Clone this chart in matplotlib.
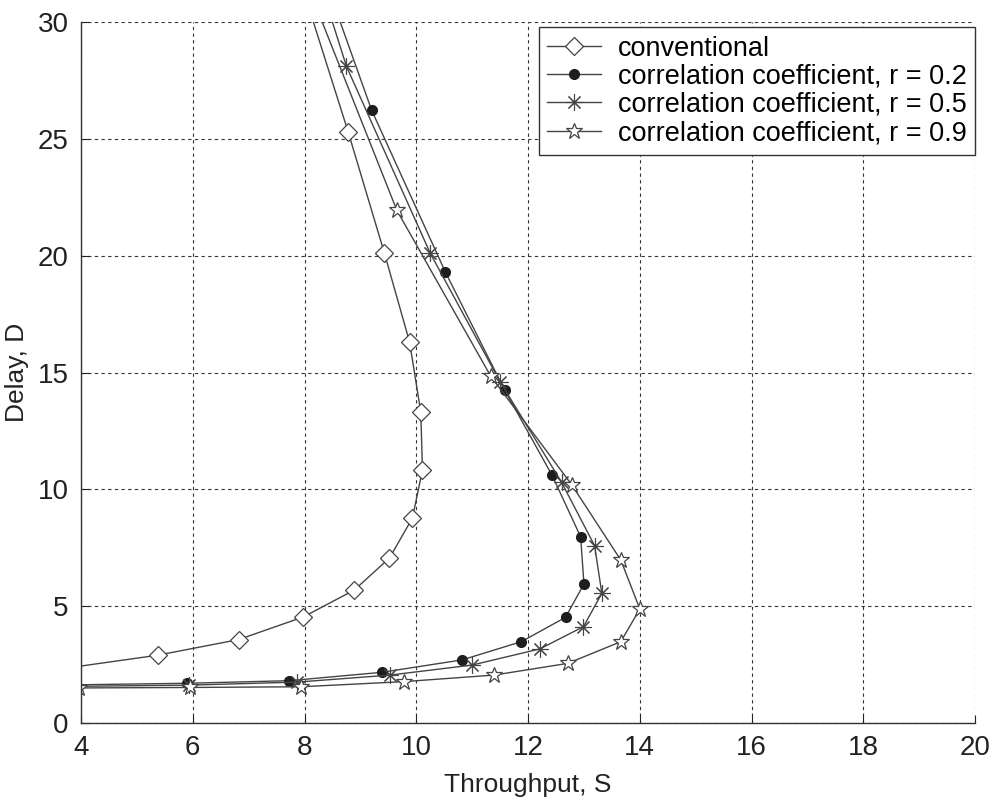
import matplotlib
matplotlib.use("Agg")
import matplotlib.pyplot as plt

plt.rcParams['font.family'] = ['Liberation Sans', 'DejaVu Sans']

# conventional (diamonds); first/last points sit just outside the axes
conv_s = [3.0, 5.37, 6.82, 7.98, 8.89, 9.52, 9.93, 10.11, 10.08, 9.88, 9.43, 8.78, 7.96]
conv_d = [2.1, 2.90, 3.57, 4.54, 5.69, 7.06, 8.77, 10.83, 13.3, 16.3, 20.1, 25.3, 31.5]

# correlation coefficient r = 0.2 (filled circles)
r2_s = [3.5, 5.90, 7.73, 9.39, 10.82, 11.88, 12.67, 13.00, 12.94, 12.43, 11.58, 10.52, 9.20, 8.40]
r2_d = [1.62, 1.70, 1.81, 2.17, 2.70, 3.48, 4.52, 5.95, 7.97, 10.60, 14.25, 19.30, 26.23, 31.6]

# r = 0.5 (asterisks)
r5_s = [3.5, 5.93, 7.87, 9.53, 11.00, 12.21, 12.99, 13.32, 13.19, 12.60, 11.50, 10.25, 8.75, 8.30]
r5_d = [1.56, 1.62, 1.75, 2.05, 2.48, 3.17, 4.12, 5.55, 7.59, 10.30, 14.60, 20.10, 28.10, 31.5]

# r = 0.9 (pentagrams)
r9_s = [3.97, 5.95, 7.94, 9.78, 11.39, 12.71, 13.66, 14.00, 13.66, 12.78, 11.33, 9.65, 8.15]
r9_d = [1.50, 1.52, 1.55, 1.77, 2.05, 2.55, 3.48, 4.88, 6.97, 10.20, 14.85, 21.95, 31.0]

labels = ['conventional',
          'correlation coefficient, r = 0.2',
          'correlation coefficient, r = 0.5',
          'correlation coefficient, r = 0.9']

fig = plt.figure(figsize=(9.93, 8.01), dpi=100)
ax = fig.add_axes([0.0816, 0.0974, 0.9004, 0.8751])

lc = '#444444'
ax.plot(conv_s, conv_d, color=lc, lw=1.0, marker='D', ms=9, mfc='white', mec=lc, mew=0.9, label=labels[0])
ax.plot(r2_s, r2_d, color=lc, lw=1.0, marker='o', ms=7, mfc='#1e1e1e', mec='#1e1e1e', label=labels[1])
ax.plot(r5_s, r5_d, color=lc, lw=1.0, marker=(8, 2, 0), ms=12, mec=lc, mew=0.8, label=labels[2])
ax.plot(r9_s, r9_d, color=lc, lw=1.0, marker='*', ms=12, mfc='white', mec=lc, mew=0.9, label=labels[3])

ax.set_xlim(4, 20)
ax.set_ylim(0, 30)
ax.set_xticks(range(4, 21, 2))
ax.set_yticks(range(0, 31, 5))
ax.grid(True, color='#333333', linestyle=(0, (3, 3)), linewidth=0.8)
ax.set_axisbelow(True)
ax.spines['top'].set_visible(False)
ax.spines['right'].set_visible(False)
for sp in ['left', 'bottom']:
    ax.spines[sp].set_color('#333333')
    ax.spines[sp].set_linewidth(1.0)
ax.tick_params(direction='in', length=6, labelsize=20, colors='#222222', pad=9)

ax.set_xlabel('Throughput, S', fontsize=19, color='#222222', labelpad=8)
ax.set_ylabel('Delay, D', fontsize=19, color='#222222', labelpad=6)

leg = ax.legend(loc='upper right', bbox_to_anchor=(1.0, 0.993), fontsize=19.5,
                fancybox=False, framealpha=1, edgecolor='#333333',
                handlelength=2.0, borderaxespad=0.0, labelspacing=0.08,
                borderpad=0.32, handletextpad=0.6)
leg.get_frame().set_linewidth(1.0)

fig.savefig('out.png', dpi=100)
